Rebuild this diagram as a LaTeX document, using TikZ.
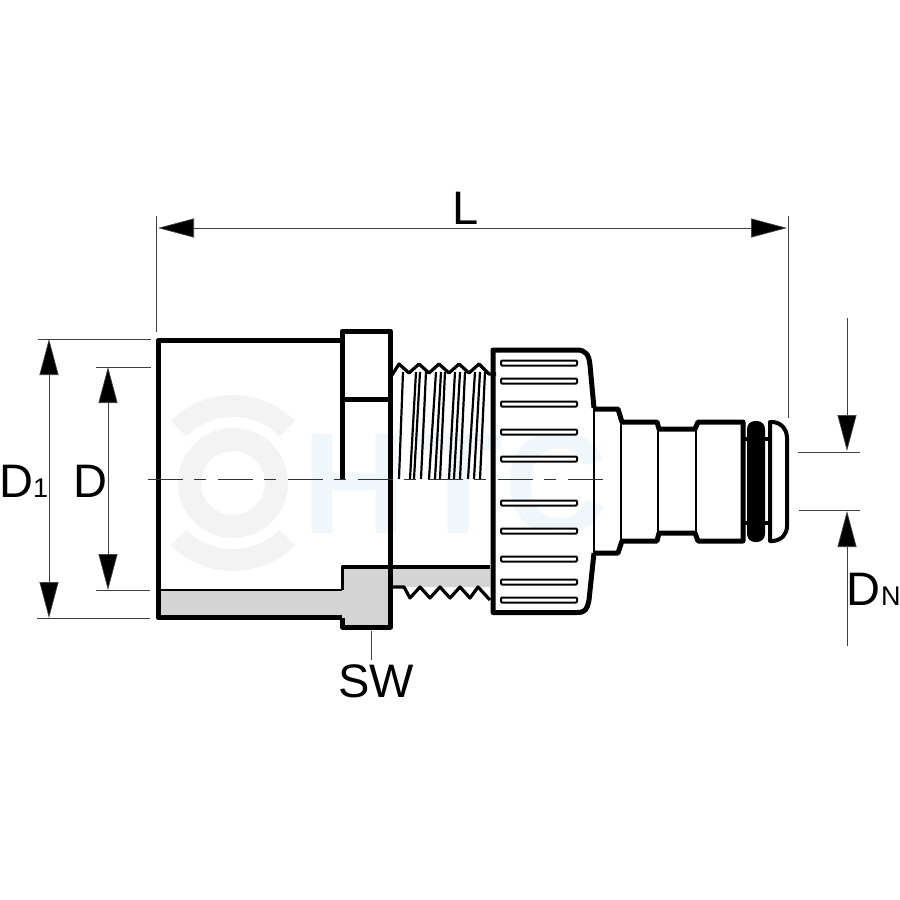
\documentclass[tikz,border=0pt]{standalone}
\usepackage{fontspec}
\setmainfont{Liberation Sans}
\usetikzlibrary{arrows.meta,calc}
\definecolor{ringgray}{HTML}{F3F3F3}
\definecolor{markblue}{HTML}{F0F7FB}
\definecolor{cutgray}{HTML}{D4D4D4}
\tikzset{
    outline/.style={line width=5pt, line join=round},
    midline/.style={line width=3.2pt, line join=round},
    dimline/.style={line width=0.7pt, black!75},
    dimarrow/.style={line width=0.7pt, black!75, {Triangle[length=36pt,width=19pt,fill=black]}-{Triangle[length=36pt,width=19pt,fill=black]}},
    onearrow/.style={line width=0.7pt, black!75, -{Triangle[length=36pt,width=19pt,fill=black]}},
    dimlabel/.style={font=\fontsize{47}{47}\selectfont, inner sep=0pt, anchor=base west},
    sublabel/.style={font=\fontsize{27}{27}\selectfont, inner sep=0pt, anchor=base west},
    slot/.style={draw, line width=2pt, rounded corners=1pt, fill=white},
    threadline/.style={line width=2.2pt}
}
\begin{document}
\begin{tikzpicture}[x=1pt, y=-1pt]
    \useasboundingbox (0,0) rectangle (900,900);
    \fill [white] (0,0) rectangle (900,900);

    % Watermark
    \fill [ringgray, even odd rule] (233,483) circle (55) (233,483) circle (32);
    \fill [ringgray] (233,483) ++(45:66) arc (45:135:66) -- ++(135:22) arc (135:45:88) -- cycle;
    \fill [ringgray] (233,483) ++(-45:66) arc (-45:-135:66) -- ++(-135:22) arc (-135:-45:88) -- cycle;
    \node [font=\fontsize{144}{144}\selectfont\bfseries, text=markblue, inner sep=0pt, anchor=base west] (mark) at (302,533) {H\kern8pt T\kern2pt C};

    % Socket body
    \fill [cutgray] (158,590) -- (342,590) -- (342,567) -- (490,567) -- (490,587) -- (390,587) -- (390,628) -- (342,628) -- (342,618) -- (158,618) -- cycle;
    \draw [outline] (342,340.5) -- (158,340.5) -- (158,617.5) -- (342,617.5);
    \draw [line width=1.5pt] (158,590) -- (342,590);

    % Hexagon
    \draw [outline] (342.5,479) -- (342.5,331) -- (390.5,331) -- (390.5,627) -- (342.5,627) -- (342.5,617.5);
    \draw [outline] (342.5,399) -- (390.5,399);
    \draw [midline] (342.5,590) -- (342.5,567) -- (490,567);

    % Thread
    \foreach \xtop/\xbot in {403/399, 416/410, 420/414, 426/421, 436/429, 441/435, 445/440, 455/449, 460/454, 465/460, 475/468, 480/474, 485/480}
        \draw [threadline] (\xtop,372) -- (\xbot,479);
    \draw [midline] (392,375) -- (399,364) -- (409,373) -- (419,364) -- (429,373) -- (439,364) -- (449,373) -- (459,364) -- (469,373) -- (479,364) -- (489,374) -- (496,374);
    \draw [midline] (392,587) -- (404,587) -- (410,598) -- (420,587) -- (430,598) -- (440,587) -- (450,598) -- (460,587) -- (470,598) -- (478,587) -- (490,600);

    % Nut
    \draw [outline] (594,408) -- (590,365) .. controls (589,354) and (585,350) .. (577,350) -- (493,350) -- (493,612.5) -- (577,612.5) .. controls (585,612.5) and (587,610) .. (589,600) -- (594,553);
    \draw [line width=2.6pt] (594,408) -- (594,553);
    \foreach \yslot in {363,381,404,432,459,503,531,559,582,600}
        \draw [slot] (501,\yslot-2.5) rectangle (577,\yslot+2.5);

    % Spigot
    \draw [outline] (594,409) -- (618,409) -- (622,422) -- (657,422) -- (659,429) -- (695,429) -- (698,422) -- (743,422) -- (743,541) -- (698,541) -- (695,533) -- (659,533) -- (657,541) -- (622,541) -- (618,553) -- (594,553);
    \foreach \xstep/\ystep in {621/422, 658/429, 696/429}
        \draw [line width=2.6pt] (\xstep,\ystep) -- (\xstep,962-\ystep);

    % Seal and end cap
    \fill [rounded corners=8pt] (747,421) rectangle (765,542);
    \draw [midline] (743,439) -- (769,439) (743,523) -- (769,523);
    \draw [line width=4pt, line join=round] (770,422) -- (773,422) .. controls (782,423) and (787,430) .. (787,437) -- (787,526) .. controls (787,534) and (782,540) .. (773,541) -- (770,541) -- cycle;

    % Centre line
    \draw [line width=0.7pt, black!80, dash pattern=on 35pt off 11pt on 12pt off 12pt] (148,479) -- (603,479);

    % Dimension L
    \coordinate (lleft) at (158,228);
    \coordinate (lright) at (787,228);
    \draw [dimline] (156,216) -- (156,332);
    \draw [dimline] (788,216) -- (788,418);
    \draw [dimarrow] (lleft) -- (lright);
    \node [dimlabel] (labelL) at (452,224) {L};

    % Dimension D1
    \coordinate (dotop) at (49,339);
    \coordinate (dobot) at (49,618);
    \draw [dimline] (38,339) -- (151,339);
    \draw [dimline] (37,618.5) -- (150,618.5);
    \draw [dimarrow] (dotop) -- (dobot);
    \node [dimlabel] (labelDo) at (-1,497) {D};
    \node [sublabel] (labelDoSub) at (33,497) {1};

    % Dimension D
    \coordinate (ditop) at (108,367);
    \coordinate (dibot) at (108,590);
    \draw [dimline] (96,367) -- (151,367);
    \draw [dimline] (96,590) -- (150,590);
    \draw [dimarrow] (ditop) -- (dibot);
    \node [dimlabel] (labelDi) at (73,497) {D};

    % Dimension DN
    \coordinate (dntopstart) at (847,318);
    \coordinate (dntop) at (847,451);
    \coordinate (dnbotstart) at (847,646);
    \coordinate (dnbot) at (847,511);
    \draw [dimline] (798,452) -- (860,452);
    \draw [dimline] (799,510) -- (860,510);
    \draw [onearrow] (dntopstart) -- (dntop);
    \draw [onearrow] (dnbotstart) -- (dnbot);
    \node [dimlabel] (labelDn) at (846,605) {D};
    \node [sublabel] (labelDnSub) at (881,605) {N};

    % Dimension SW
    \node [dimlabel] (labelSW) at (338,697) {SW};
    \draw [dimline] (371,631) -- (371,660);
\end{tikzpicture}
\end{document}
